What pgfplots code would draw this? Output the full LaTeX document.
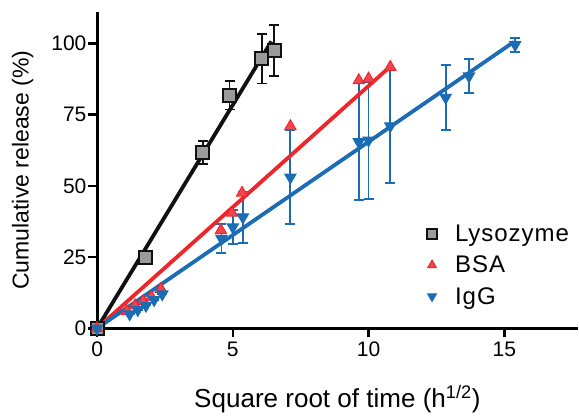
\documentclass[border=0pt]{standalone}
\usepackage{fontspec}
\setmainfont{Liberation Sans}
\newfontfamily\legfont[LetterSpace=4]{Liberation Sans}
\usepackage{pgfplots}
\pgfplotsset{compat=1.18}
\usetikzlibrary{calc}
\definecolor{lysoBlack}{HTML}{111111}
\definecolor{lysoFill}{HTML}{9B9B9B}
\definecolor{bsaRed}{HTML}{EE262C}
\definecolor{iggBlue}{HTML}{1C6BB5}

\pgfplotstableread{
x y e
0 0 0
1.79 24.8 0
3.9 61.8 4
4.88 81.8 5
6.07 94.6 8.7
6.52 97.5 9
}\lyso

\pgfplotstableread{
x y e
0 0 0
1.1 6 0
1.4 8 0
1.7 9.5 0
2.0 11 0
2.35 13.8 0
4.56 34.4 0
4.97 40.5 0
5.34 47.5 0
7.12 70.9 0
9.64 87 0
10.0 87.6 0
10.8 91.7 0
}\bsa

\pgfplotstableread{
x y e
0 0 0
1.2 5 0
1.5 6.5 0
1.8 8 0
2.1 10 0
2.4 12 0
4.58 31.5 5
5.0 35.5 6
5.37 39 9
7.12 53 16.5
9.64 65.4 20.5
10.0 66 20.5
10.8 71 20
12.84 81 11.5
13.7 88.5 6
15.4 99.5 2.5
}\igg

\begin{document}
\begin{tikzpicture}
\begin{axis}[
  scale only axis,
  width=480pt, height=316pt,
  xmin=0, xmax=17.7, ymin=0, ymax=111,
  axis lines=left,
  axis line style={line width=2.8pt, -},
  xtick={0,5,10,15}, ytick={0,25,50,75,100},
  tick style={line width=2.6pt, black},
  tick align=outside, major tick length=9pt,
  /pgf/number format/assume math mode=true,
  ticklabel style={font=\fontsize{21}{25}\selectfont},
  yticklabel style={inner xsep=1.5pt},
  xticklabel style={inner ysep=4pt},
  xlabel={Square root of time (h\textsuperscript{1/2})},
  ylabel={Cumulative release (\%)},
  xlabel style={font=\fontsize{26}{30}\selectfont,
    at={(axis description cs:0.5,0)}, anchor=base, yshift=-79pt},
  ylabel style={font=\fontsize{23}{27}\selectfont,
    at={($(axis description cs:0,0.5)+(-60pt,0)$)}, anchor=south},
  clip=false,
  legend style={at={(rel axis cs:0.68,0.34)}, anchor=north west, draw=none, fill=none,
    font=\legfont\fontsize{24}{28}\selectfont, row sep=9pt,
    /tikz/every odd column/.style={column sep=16pt}},
  legend cell align=left,
  legend image post style={mark size=5pt},
]
\path (rel axis cs:0,1) ++(0,12pt) coordinate (topspace);
\path (rel axis cs:0,0) ++(-97pt,0) coordinate (leftspace);
\addplot[only marks, mark=square*, mark size=6.5pt,
  mark options={draw=lysoBlack, fill=lysoFill, line width=2pt},
  error bars/.cd, y dir=both, y explicit,
  error bar style={lysoBlack, line width=1.8pt},
  error mark options={rotate=90, mark size=5pt, line width=1.8pt, lysoBlack}]
  table[x=x, y=y, y error=e] {\lyso};
\addlegendentry{Lysozyme}
\addplot[only marks, mark=triangle*, mark size=6.5pt,
  mark options={draw=bsaRed, fill=bsaRed!85, line width=1pt}]
  table[x=x, y=y] {\bsa};
\addlegendentry{BSA}
\addplot[only marks, mark=triangle*, mark size=6.5pt,
  mark options={draw=iggBlue, fill=iggBlue, rotate=180, line width=1pt},
  error bars/.cd, y dir=both, y explicit,
  error bar style={iggBlue, line width=1.8pt},
  error mark options={rotate=90, mark size=5pt, line width=1.8pt, iggBlue}]
  table[x=x, y=y, y error=e] {\igg};
\addlegendentry{IgG}
\addplot[lysoBlack, line width=3.8pt, forget plot] coordinates {(0,0) (6.42,100.7)};
\addplot[bsaRed, line width=3.8pt, forget plot] coordinates {(0,0) (10.85,92.3)};
\addplot[iggBlue, line width=3.8pt, forget plot] coordinates {(0,0) (15.35,100.5)};
\end{axis}
\end{tikzpicture}
\end{document}
